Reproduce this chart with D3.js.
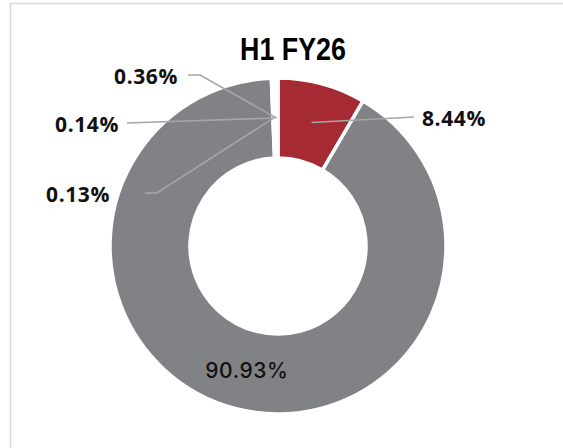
<!DOCTYPE html>
<html>
<head>
<meta charset="utf-8">
<script src="https://cdn.jsdelivr.net/npm/d3@7"></script>
<style>
  html, body { margin: 0; padding: 0; background: #fff; }
  svg { display: block; }
</style>
</head>
<body>
<div id="chart"></div>
<script>
// H1 FY26 split - donut chart
var title = "H1 FY26";
var categories = ["A", "B", "C", "D", "E"];
var values = [8.44, 90.93, 0.13, 0.14, 0.36];
var valueLabels = ["8.44%", "90.93%", "0.13%", "0.14%", "0.36%"];

var width = 563, height = 448;
var cx = 278, cy = 246;
var outerR = 168, innerR = 88;

var colors = ["#a62a33", "#818285", "#ffffff", "#ffffff", "#ffffff"];

// callout layout, relative to the centre (elbow, line end, text anchor)
// null = label sits inside the slice
var callouts = [
  {elbow: [136, -129], end: [136, -129], text: [144, -120.5], anchor: "start"},
  null,
  {elbow: [-121, -53], end: [-133, -53], text: [-168, -44.5], anchor: "end"},
  {elbow: [-151, -123], end: [-151, -123], text: [-159, -114.5], anchor: "end"},
  {elbow: [-78, -171], end: [-90, -171], text: [-100, -162.5], anchor: "end"}
];

var svg = d3.select("#chart")
  .append("svg")
  .attr("width", width)
  .attr("height", height);

// frame lines
svg.append("line")
  .attr("x1", 10).attr("y1", 3.5).attr("x2", width).attr("y2", 3.5)
  .attr("stroke", "#d9d9d9").attr("stroke-width", 1.5);
svg.append("line")
  .attr("x1", 10.5).attr("y1", 3).attr("x2", 10.5).attr("y2", height)
  .attr("stroke", "#d9d9d9").attr("stroke-width", 1.5);

svg.append("text")
  .attr("x", 293)
  .attr("y", 60)
  .attr("text-anchor", "middle")
  .attr("font-family", "'Liberation Sans', Arial, sans-serif")
  .attr("font-weight", 700)
  .attr("font-size", 31)
  .attr("textLength", 106)
  .attr("lengthAdjust", "spacingAndGlyphs")
  .attr("fill", "#000")
  .text(title);

var pie = d3.pie().sort(null).value(function(d) { return d; });
var arcs = pie(values);

var arc = d3.arc().innerRadius(innerR).outerRadius(outerR);
var mid = d3.arc().innerRadius(128).outerRadius(128);

var g = svg.append("g")
  .attr("transform", "translate(" + cx + "," + cy + ")");

g.selectAll("path.slice")
  .data(arcs)
  .enter().append("path")
  .attr("class", "slice")
  .attr("d", arc)
  .attr("fill", function(d, i) { return colors[i]; })
  .attr("stroke", "#fff")
  .attr("stroke-width", 3.5);

// leader lines + labels
arcs.forEach(function(d, i) {
  var c = callouts[i];
  var p = mid.centroid(d);
  if (!c) {
    g.append("text")
      .attr("x", p[0])
      .attr("y", p[1] + 8)
      .attr("text-anchor", "middle")
      .attr("font-family", "Inter, 'Open Sans', sans-serif")
      .attr("font-weight", 500)
      .attr("font-size", 21)
      .attr("letter-spacing", 0.6)
      .attr("fill", "#111")
      .text(valueLabels[i]);
    return;
  }
  g.append("polyline")
    .attr("points", [p, c.elbow, c.end].map(function(q) { return q.join(","); }).join(" "))
    .attr("fill", "none")
    .attr("stroke", "#a6a6a6")
    .attr("stroke-width", 1.6);
  g.append("text")
    .attr("x", c.text[0])
    .attr("y", c.text[1])
    .attr("text-anchor", c.anchor)
    .attr("font-family", "'Open Sans', sans-serif")
    .attr("font-weight", 700)
    .attr("font-size", 21)
    .attr("letter-spacing", 0.6)
    .attr("fill", "#111")
    .text(valueLabels[i]);
});
</script>
</body>
</html>
